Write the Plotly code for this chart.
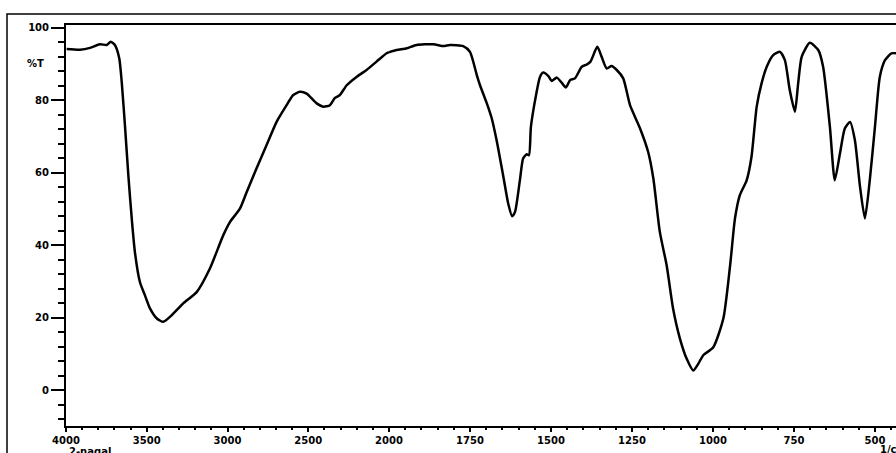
import plotly.graph_objs as go

# FTIR spectrum, wavenumber (1/cm) vs transmittance (%T)
wavenumber = [3996, 3913, 3851, 3790, 3748, 3723, 3697, 3670, 3655, 3635,
              3614, 3593, 3573, 3542, 3511, 3480, 3439, 3398, 3346, 3274,
              3191, 3109, 3026, 2985, 2923, 2881, 2820, 2758, 2696, 2634,
              2593, 2552, 2510, 2448, 2407, 2366, 2335, 2304, 2262, 2201,
              2139, 2077, 2015, 2000,
              1976, 1945, 1915, 1863, 1832, 1812, 1771, 1750, 1729, 1719,
              1698, 1683, 1668, 1647, 1632, 1620, 1611, 1596, 1586, 1575,
              1568, 1562, 1549, 1534, 1524, 1508, 1498, 1482, 1467, 1454,
              1441, 1426, 1405, 1390, 1378, 1357, 1344, 1328, 1313, 1297,
              1277, 1256, 1225, 1200, 1184, 1164, 1143, 1123, 1102, 1081,
              1061, 1045, 1030, 999, 968, 947, 932, 917, 896, 881,
              865, 850, 834, 814, 793, 778, 763, 747, 737, 726,
              701, 675, 660, 639, 624, 608, 593, 577, 562, 546,
              531, 516, 500, 485, 469, 449, 435]

transmittance = [94.1, 93.9, 94.4, 95.4, 95.2, 96.1, 95.2, 91.5, 85.0, 73.0,
                 59.3, 47.4, 38.0, 29.8, 26.2, 22.6, 19.9, 18.9, 20.7, 24.0,
                 27.1, 33.6, 42.8, 46.4, 50.1, 54.7, 61.2, 67.6, 74.0, 78.6,
                 81.4, 82.3, 81.8, 79.1, 78.2, 78.6, 80.6, 81.4, 84.1, 86.4,
                 88.3, 90.6, 92.9, 93.2,
                 93.8, 94.3, 95.2, 95.4, 94.9, 95.2, 94.9, 93.3, 86.9, 84.1,
                 79.1, 75.0, 69.0, 58.9, 51.5, 48.0, 49.2, 57.9, 63.9, 65.1,
                 64.8, 72.6, 80.0, 86.4, 87.6, 86.6, 85.3, 86.2, 84.8, 83.5,
                 85.5, 86.0, 89.2, 89.8, 90.6, 94.7, 92.0, 88.7, 89.4, 88.3,
                 86.0, 78.6, 72.2, 65.7, 58.4, 43.7, 34.5, 22.5, 14.3, 8.7,
                 5.5, 7.4, 9.7, 11.9, 19.8, 34.5, 47.4, 53.8, 57.9, 64.4,
                 78.2, 84.6, 89.2, 92.4, 93.3, 91.0, 82.8, 76.8, 84.6, 92.0,
                 95.8, 93.8, 89.2, 72.6, 57.9, 65.3, 72.2, 74.0, 69.0, 56.1,
                 47.4, 57.9, 72.6, 86.4, 91.0, 92.9, 92.9]

x_ticks_high = [4000, 3500, 3000, 2500, 2000]
x_ticks_low = [1750, 1500, 1250, 1000, 750, 500]
y_ticks = [0, 20, 40, 60, 80, 100]

# the instrument plots 4000-2000 and 2000-400 at different scales
hi = [(w, t) for w, t in zip(wavenumber, transmittance) if w >= 2000]
lo = [(w, t) for w, t in zip(wavenumber, transmittance) if w <= 2000]

line = dict(color='black', width=2.5, shape='spline', smoothing=0.6)
tfont = dict(family='DejaVu Sans', size=10, color='black', weight='bold')

trace1 = go.Scatter(x=[p[0] for p in hi], y=[p[1] for p in hi],
                    mode='lines', line=line, xaxis='x', yaxis='y')
trace2 = go.Scatter(x=[p[0] for p in lo], y=[p[1] for p in lo],
                    mode='lines', line=line, xaxis='x2', yaxis='y')

split = (389 - 66) / 830.0

xcommon = dict(showgrid=False, zeroline=False, showline=True, linecolor='black',
               linewidth=2, mirror=True, ticks='outside', ticklen=4, tickwidth=2,
               tickcolor='black', tickfont=tfont, anchor='y', automargin=False)

layout = go.Layout(
    width=896, height=453,
    margin=dict(l=66, r=0, t=25, b=27),
    paper_bgcolor='white', plot_bgcolor='white',
    showlegend=False,
    xaxis=dict(xcommon, domain=[0, split], range=[4000, 2000],
               tickvals=x_ticks_high, ticktext=[str(v) for v in x_ticks_high],
               minor=dict(dtick=100, tick0=0, ticks='outside', ticklen=2,
                          tickwidth=2, tickcolor='black')),
    xaxis2=dict(xcommon, domain=[split, 1], range=[2000, 435],
                tickvals=x_ticks_low, ticktext=[str(v) for v in x_ticks_low],
                minor=dict(dtick=50, tick0=0, ticks='outside', ticklen=2,
                           tickwidth=2, tickcolor='black')),
    yaxis=dict(range=[-9.8, 100.7], showgrid=False, zeroline=False,
               showline=True, linecolor='black', linewidth=2, automargin=False,
               ticks='outside', ticklen=13, tickwidth=2, tickcolor='black',
               tickvals=y_ticks, ticktext=[str(v) for v in y_ticks],
               tickfont=tfont,
               minor=dict(dtick=4, tick0=0, ticks='outside', ticklen=6,
                          tickwidth=2, tickcolor='black')),
    shapes=[dict(type='rect', xref='paper', yref='paper',
                 x0=(7 - 66) / 830.0, x1=1.2, y0=-0.3, y1=(426 - 14) / 401.0,
                 line=dict(color='black', width=1.5))],
    annotations=[
        dict(text='%T', xref='paper', yref='y', x=(46 - 66) / 830.0, y=90,
             xanchor='right', yanchor='middle', showarrow=False, font=tfont),
        dict(text='2-nagal', xref='paper', yref='paper', x=0.001,
             y=(426 - 444) / 401.0, xanchor='left', yanchor='top',
             showarrow=False, font=tfont),
        dict(text='1/cm', xref='paper', yref='paper', x=(878 - 66) / 830.0,
             y=(426 - 442) / 401.0, xanchor='left', yanchor='top',
             showarrow=False, font=tfont),
    ])

fig = go.Figure(data=[trace1, trace2], layout=layout)
# drop the browser's default 8px body margin so the figure fills the window
fig.write_html("out.html", config={'displayModeBar': False},
               post_script="document.body.style.margin = '0';")
